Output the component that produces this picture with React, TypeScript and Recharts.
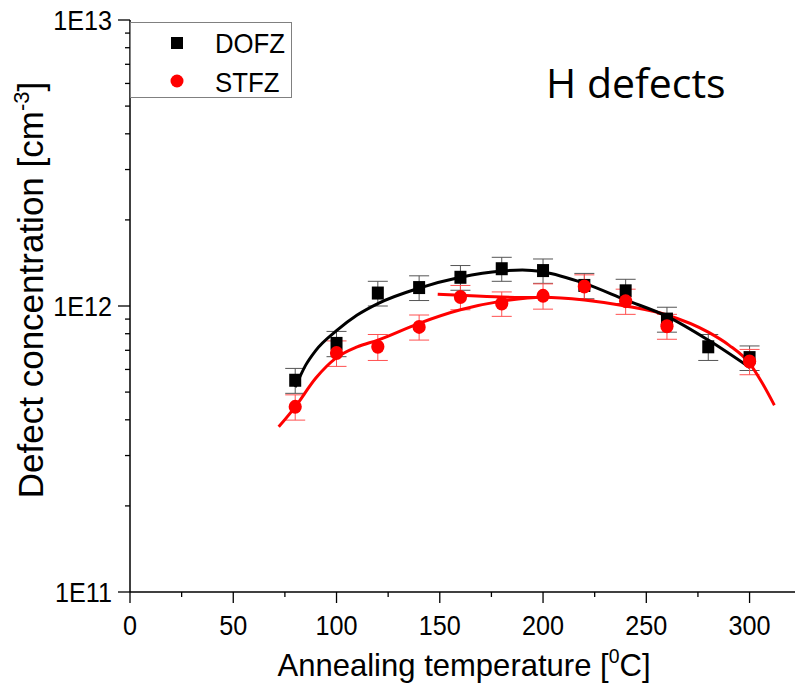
import React from 'react';
import { ComposedChart, XAxis, YAxis, Scatter, Line, ErrorBar, Legend } from 'recharts';

const FONT = '"Liberation Sans", Arial, Helvetica, sans-serif';

// Measured points
const dofzTemps = [80, 100, 120, 140, 160, 180, 200, 220, 240, 260, 280, 300];
const dofzValues = [5.5e11, 7.4e11, 1.11e12, 1.16e12, 1.26e12, 1.35e12, 1.33e12, 1.18e12, 1.13e12, 9.0e11, 7.2e11, 6.6e11];
const dofzErrors = [0.55e11, 0.75e11, 1.1e11, 1.15e11, 1.25e11, 1.3e11, 1.3e11, 1.2e11, 1.1e11, 0.9e11, 0.75e11, 0.65e11];

const stfzTemps = [80, 100, 120, 140, 160, 180, 200, 220, 240, 260, 300];
const stfzValues = [4.44e11, 6.85e11, 7.2e11, 8.45e11, 1.075e12, 1.02e12, 1.085e12, 1.17e12, 1.04e12, 8.5e11, 6.4e11];
const stfzErrors = [0.45e11, 0.7e11, 0.75e11, 0.85e11, 1.05e11, 1.0e11, 1.1e11, 1.15e11, 1.05e11, 0.85e11, 0.65e11];

// Fit curves
const dofzFitTemps = [80, 85, 90, 100, 110, 120, 140, 160, 180, 190, 200, 220, 240, 260, 280, 300];
const dofzFitValues = [5.2e11, 6.2e11, 7.0e11, 8.2e11, 9.3e11, 1.02e12, 1.155e12, 1.26e12, 1.325e12, 1.335e12, 1.315e12, 1.2e12, 1.05e12, 9.2e11, 7.6e11, 6.1e11];

const stfzFitTemps = [72, 80, 90, 100, 110, 120, 140, 160, 180, 200, 220, 240, 260, 280, 290, 300, 306, 312];
const stfzFitValues = [3.78e11, 4.44e11, 5.6e11, 6.6e11, 7.2e11, 7.6e11, 8.7e11, 9.7e11, 1.04e12, 1.074e12, 1.05e12, 1.0e12, 9.3e11, 8.1e11, 7.3e11, 6.3e11, 5.4e11, 4.5e11];

const stfzFit2Temps = [149, 160, 180, 200];
const stfzFit2Values = [1.1e12, 1.09e12, 1.075e12, 1.07e12];

// Axis ticks
const xTicks = [0, 25, 50, 75, 100, 125, 150, 175, 200, 225, 250, 275, 300];
const yTicks = [
  1e11, 2e11, 3e11, 4e11, 5e11, 6e11, 7e11, 8e11, 9e11,
  1e12, 2e12, 3e12, 4e12, 5e12, 6e12, 7e12, 8e12, 9e12, 1e13,
];

const dofzData = dofzTemps.map((t, i) => ({ x: t, y: dofzValues[i], err: dofzErrors[i] }));
const stfzData = stfzTemps.map((t, i) => ({ x: t, y: stfzValues[i], err: stfzErrors[i] }));
const dofzFit = dofzFitTemps.map((t, i) => ({ x: t, y: dofzFitValues[i] }));
const stfzFit = stfzFitTemps.map((t, i) => ({ x: t, y: stfzFitValues[i] }));
const stfzFit2 = stfzFit2Temps.map((t, i) => ({ x: t, y: stfzFit2Values[i] }));

const YTick = (props: any) => {
  const { x, y, payload } = props;
  const lg = Math.log10(payload.value);
  const major = Math.abs(lg - Math.round(lg)) < 1e-6;
  return (
    <g>
      <line x1={x - (major ? 12 : 5)} x2={x} y1={y} y2={y} stroke="#000" strokeWidth={1.3} />
      {major && (
        <text
          transform={`translate(${x - 18},${y}) scale(0.9,1)`}
          textAnchor="end"
          dy="0.36em"
          fontSize={28}
          fontFamily={FONT}
          fill="#000"
        >
          {`1E${Math.round(lg)}`}
        </text>
      )}
    </g>
  );
};

const XTick = (props: any) => {
  const { x, y, payload } = props;
  const v = payload.value;
  const major = v % 50 === 0;
  return (
    <g>
      <line x1={x} x2={x} y1={y} y2={y + (major ? 11 : 5)} stroke="#000" strokeWidth={1.3} />
      {major && (
        <text
          transform={`translate(${x},${y + 43}) scale(0.9,1)`}
          textAnchor="middle"
          fontSize={28}
          fontFamily={FONT}
          fill="#000"
        >
          {String(v)}
        </text>
      )}
    </g>
  );
};

const SquareShape = (props: any) => {
  const { cx, cy } = props;
  return <rect x={cx - 6} y={cy - 6.5} width={12} height={13} fill="#000" />;
};

const CircleShape = (props: any) => {
  const { cx, cy } = props;
  return <ellipse cx={cx} cy={cy} rx={6.6} ry={7} fill="#ff0000" />;
};

const LegendBox = () => (
  <svg width={162} height={76} style={{ display: 'block' }}>
    <rect x={0.5} y={0.5} width={161} height={75} fill="#fff" stroke="#808080" strokeWidth={1} />
    <rect x={41} y={15} width={12} height={12} fill="#000" />
    <text transform="translate(85,31) scale(0.92,1)" fontSize={28} fontFamily={FONT} fill="#000">DOFZ</text>
    <circle cx={47} cy={59} r={6.5} fill="#ff0000" />
    <text transform="translate(85,70) scale(0.92,1)" fontSize={28} fontFamily={FONT} fill="#000">STFZ</text>
  </svg>
);

const YTitle = (props: any) => {
  const vb = props.viewBox;
  const cx = vb.x + 13;
  const cy = 290;
  return (
    <text
      transform={`translate(${cx},${cy}) rotate(-90)`}
      textAnchor="middle"
      fontSize={35}
      fontFamily={FONT}
      fill="#000"
    >
      Defect concentration [cm
      <tspan fontSize={22} dy={-14}>-3</tspan>
      <tspan dy={14}>]</tspan>
    </text>
  );
};

const XTitle = (props: any) => {
  const vb = props.viewBox;
  const cx = vb.x + 334;
  const by = vb.y + 84;
  return (
    <text
      transform={`translate(${cx},${by}) scale(0.97,1)`}
      textAnchor="middle"
      fontSize={32}
      fontFamily={FONT}
      fill="#000"
    >
      Annealing temperature [
      <tspan fontSize={20} dy={-13}>0</tspan>
      <tspan dy={13}>C]</tspan>
    </text>
  );
};

export default function App() {
  return (
    <div style={{ position: 'absolute', left: 0, top: 0, width: 796, height: 688, background: '#fff' }}>
      <ComposedChart
        width={796}
        height={688}
        margin={{ top: 20, right: 1, bottom: 0, left: 30 }}
      >
        <XAxis
          dataKey="x"
          type="number"
          domain={[0, 322]}
          ticks={xTicks}
          interval={0}
          allowDataOverflow
          height={96}
          tickSize={0}
          tickMargin={0}
          tickLine={false}
          tick={<XTick />}
          axisLine={{ stroke: '#000', strokeWidth: 1.5 }}
          label={<XTitle />}
        />
        <XAxis
          xAxisId="top"
          orientation="top"
          type="number"
          domain={[0, 322]}
          height={0}
          tick={false}
          tickLine={false}
          axisLine={{ stroke: '#000', strokeWidth: 1.8 }}
        />
        <YAxis
          dataKey="y"
          type="number"
          scale="log"
          domain={[1e11, 1e13]}
          ticks={yTicks}
          interval={0}
          allowDataOverflow
          width={100}
          tickSize={0}
          tickMargin={0}
          tickLine={false}
          tick={<YTick />}
          axisLine={{ stroke: '#000', strokeWidth: 1.5 }}
          label={<YTitle />}
        />
        <Legend
          layout="vertical"
          verticalAlign="middle"
          align="center"
          content={<LegendBox />}
          wrapperStyle={{ position: 'absolute', left: 130, top: 22, width: 162, height: 76 }}
        />
        <Scatter name="DOFZ" data={dofzData} shape={<SquareShape />} isAnimationActive={false} legendType="square">
          <ErrorBar dataKey="err" direction="y" width={10} stroke="#555" strokeWidth={1} />
        </Scatter>
        <Scatter name="STFZ" data={stfzData} shape={<CircleShape />} isAnimationActive={false} legendType="circle">
          <ErrorBar dataKey="err" direction="y" width={10} stroke="#ff5050" strokeWidth={1} />
        </Scatter>
        <Line data={stfzFit} dataKey="y" type="monotone" stroke="#ff0000" strokeWidth={3} dot={false} isAnimationActive={false} legendType="none" />
        <Line data={stfzFit2} dataKey="y" type="monotone" stroke="#ff0000" strokeWidth={3} dot={false} isAnimationActive={false} legendType="none" />
        <Line data={dofzFit} dataKey="y" type="monotone" stroke="#000" strokeWidth={3} dot={false} isAnimationActive={false} legendType="none" />
      </ComposedChart>
      <svg
        width={796}
        height={688}
        style={{ position: 'absolute', left: 0, top: 0, pointerEvents: 'none' }}
      >
        <text x={546} y={98} fontSize={41} fontFamily='"Open Sans", Lato, sans-serif' fill="#000">
          H defects
        </text>
      </svg>
    </div>
  );
}
